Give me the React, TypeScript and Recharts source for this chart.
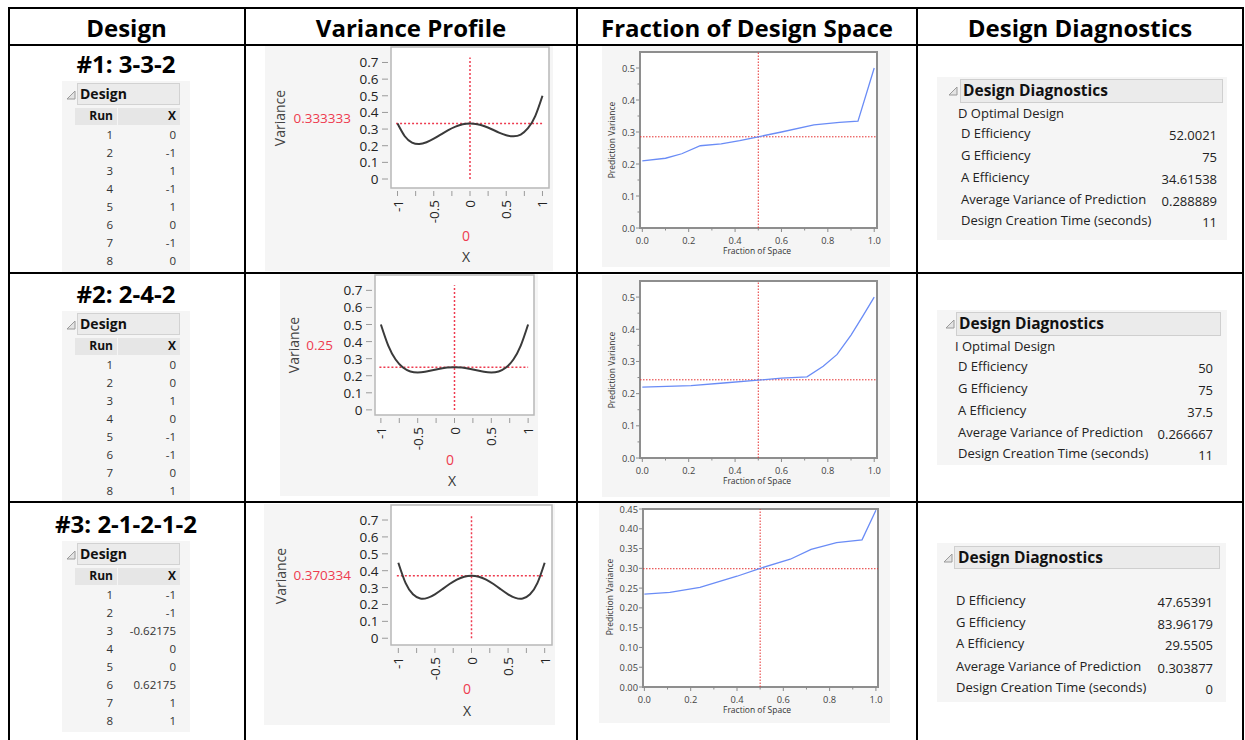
import React from 'react';
import { LineChart, Line, XAxis, YAxis, CartesianGrid, ReferenceLine, ReferenceArea } from 'recharts';

// header row + row titles
const headers = ['Design', 'Variance Profile', 'Fraction of Design Space', 'Design Diagnostics'];
const designTitles = ['#1: 3-3-2', '#2: 2-4-2', '#3: 2-1-2-1-2'];

// design tables (Run / X)
const runs = ['1', '2', '3', '4', '5', '6', '7', '8'];
const design1 = ['0', '-1', '1', '-1', '1', '0', '-1', '0'];
const design2 = ['0', '0', '1', '0', '-1', '-1', '0', '1'];
const design3 = ['-1', '-1', '-0.62175', '0', '0', '0.62175', '1', '1'];

// variance profile at X = -1 .. 1
const profileX = [-1, -0.9, -0.8, -0.7, -0.6, -0.5, -0.4, -0.3, -0.2, -0.1, 0, 0.1, 0.2, 0.3, 0.4, 0.5, 0.6, 0.7, 0.8, 0.9, 1];
const profile1 = [0.333, 0.257, 0.219, 0.21, 0.221, 0.242, 0.268, 0.294, 0.315, 0.329, 0.333, 0.329, 0.317, 0.299, 0.279, 0.263, 0.257, 0.267, 0.305, 0.378, 0.5];
const profile2 = [0.5, 0.376, 0.295, 0.248, 0.225, 0.219, 0.223, 0.232, 0.241, 0.248, 0.25, 0.248, 0.241, 0.232, 0.223, 0.219, 0.225, 0.248, 0.295, 0.376, 0.5];
const profile3 = [0.447, 0.326, 0.26, 0.235, 0.239, 0.26, 0.29, 0.321, 0.347, 0.364, 0.37, 0.364, 0.347, 0.321, 0.29, 0.26, 0.239, 0.235, 0.26, 0.326, 0.447];
const profileCurrent = [0.333333, 0.25, 0.370334];
const profileCurrentText = ['0.333333', '0.25', '0.370334'];
const profileYTicks = [0, 0.1, 0.2, 0.3, 0.4, 0.5, 0.6, 0.7];
const profileXTicks = [-1, -0.75, -0.5, -0.25, 0, 0.25, 0.5, 0.75, 1];

// fraction of design space
const fds1Frac = [0, 0.1, 0.17, 0.25, 0.34, 0.42, 0.5, 0.6, 0.74, 0.85, 0.93, 1];
const fds1Var = [0.21, 0.218, 0.232, 0.257, 0.263, 0.273, 0.285, 0.3, 0.322, 0.33, 0.334, 0.5];
const fds2Frac = [0, 0.21, 0.35, 0.5, 0.6, 0.71, 0.78, 0.84, 0.9, 0.95, 1];
const fds2Var = [0.22, 0.225, 0.233, 0.242, 0.248, 0.252, 0.285, 0.322, 0.382, 0.44, 0.5];
const fds3Frac = [0, 0.11, 0.24, 0.4, 0.5, 0.63, 0.72, 0.83, 0.94, 1];
const fds3Var = [0.235, 0.239, 0.252, 0.28, 0.3, 0.323, 0.348, 0.365, 0.372, 0.447];
const fdsMedian = [0.285, 0.243, 0.299];
const fdsXTicks = [0, 0.1, 0.2, 0.3, 0.4, 0.5, 0.6, 0.7, 0.8, 0.9, 1];
const fdsYTicksA = [0, 0.05, 0.1, 0.15, 0.2, 0.25, 0.3, 0.35, 0.4, 0.45, 0.5];
const fdsYTicksB = [0, 0.05, 0.1, 0.15, 0.2, 0.25, 0.3, 0.35, 0.4, 0.45];

// design diagnostics
const diagLabels = ['D Efficiency', 'G Efficiency', 'A Efficiency', 'Average Variance of Prediction', 'Design Creation Time (seconds)'];
const diag1 = ['52.0021', '75', '34.61538', '0.288889', '11'];
const diag2 = ['50', '75', '37.5', '0.266667', '11'];
const diag3 = ['47.65391', '83.96179', '29.5505', '0.303877', '0'];
const diagOptimal = ['D Optimal Design', 'I Optimal Design', ''];

const FONT = '"Open Sans", sans-serif';
const PANEL = '#f5f5f5';
const RED = '#ee3b4f';

type Anchor = 'start' | 'middle' | 'end';

// text whose cap-height middle sits on y
const Txt = ({ x, y, size, anchor = 'start', bold = false, color = '#222', rotate = false, children }: any) => {
  const base: React.CSSProperties = {
    position: 'absolute',
    fontSize: size,
    lineHeight: `${size}px`,
    whiteSpace: 'nowrap',
    color,
    fontWeight: bold ? 700 : 400,
  };
  if (rotate) {
    return <div style={{ ...base, left: x, top: y, transform: 'translate(-50%,-50%) rotate(-90deg)' }}>{children}</div>;
  }
  const tx = anchor === 'start' ? '0' : anchor === 'middle' ? '-50%' : '-100%';
  return <div style={{ ...base, left: x, top: y - 0.53 * size, transform: `translateX(${tx})` }}>{children}</div>;
};

const Rule = ({ x, y, w, h }: { x: number; y: number; w: number; h: number }) => (
  <div style={{ position: 'absolute', left: x, top: y, width: w, height: h, background: '#000' }} />
);

const Box = ({ l, t, w, h, bg, border }: any) => (
  <div style={{ position: 'absolute', left: l, top: t, width: w, height: h, background: bg, border, boxSizing: 'border-box' }} />
);

const Disclosure = ({ x, y }: { x: number; y: number }) => (
  <svg style={{ position: 'absolute', left: x - 5, top: y - 5 }} width={10} height={10}>
    <polygon points="1,9 9,1 9,9" fill="#e4e4e4" stroke="#9a9a9a" strokeWidth={1} />
  </svg>
);

const DesignTable = ({ boxTop, bottom, values }: { boxTop: number; bottom: number; values: string[] }) => (
  <>
    <Box l={62} t={boxTop - 2} w={128} h={bottom - boxTop + 2} bg={PANEL} />
    <Disclosure x={71} y={boxTop + 12} />
    <Box l={77} t={boxTop} w={103} h={22} bg="#ebebeb" border="1px solid #d2d2d2" />
    <Txt x={80} y={boxTop + 11} size={14} bold color="#111">Design</Txt>
    <Box l={75} t={boxTop + 25} w={42} h={17} bg="#e6e6e6" />
    <Box l={118} t={boxTop + 25} w={62} h={17} bg="#e6e6e6" />
    <Txt x={113} y={boxTop + 33.5} size={12} bold anchor="end" color="#111">Run</Txt>
    <Txt x={176} y={boxTop + 33.5} size={12} bold anchor="end" color="#111">X</Txt>
    {runs.map((r, i) => (
      <React.Fragment key={r}>
        <Txt x={113} y={boxTop + 52.5 + i * 18} size={11.5} anchor="end" color="#333">{r}</Txt>
        <Txt x={176} y={boxTop + 52.5 + i * 18} size={11.5} anchor="end" color="#333">{values[i]}</Txt>
      </React.Fragment>
    ))}
  </>
);

const profileYTick = (props: any) => {
  const { x, y, payload } = props;
  const v = payload.value as number;
  return (
    <g>
      <line x1={x - 9} x2={x - 3} y1={y} y2={y} stroke="#9a9a9a" strokeWidth={1} />
      <text x={x - 12.5} y={y} textAnchor="end" dominantBaseline="central" fontSize={13.5} fontFamily={FONT} fill="#222">
        {v === 0 ? '0' : v.toFixed(1)}
      </text>
    </g>
  );
};

const profileXTick = (props: any) => {
  const { x, y, payload } = props;
  const v = payload.value as number;
  const major = Math.abs(v * 2 - Math.round(v * 2)) < 1e-6;
  return (
    <g>
      <line x1={x} x2={x} y1={y + 3} y2={y + 8} stroke="#9a9a9a" strokeWidth={1} />
      {major && (
        <text transform={`translate(${x},${y + 12}) rotate(-90)`} textAnchor="end" dominantBaseline="central" fontSize={13.5} fontFamily={FONT} fill="#222">
          {String(v)}
        </text>
      )}
    </g>
  );
};

const fdsYTick = (decimals: number, every: number) => (props: any) => {
  const { x, y, payload } = props;
  const v = payload.value as number;
  const major = Math.round(v * 100) % every === 0;
  return (
    <g>
      <line x1={x - (major ? 4 : 2.5)} x2={x} y1={y} y2={y} stroke="#8a8a8a" strokeWidth={1} />
      {major && (
        <text x={x - 5} y={y} textAnchor="end" dominantBaseline="central" fontSize={9.3} fontFamily={FONT} fill="#444">
          {v.toFixed(decimals)}
        </text>
      )}
    </g>
  );
};

const fdsXTick = (props: any) => {
  const { x, y, payload } = props;
  const v = payload.value as number;
  const major = Math.round(v * 10) % 2 === 0;
  return (
    <g>
      <line x1={x} x2={x} y1={y} y2={y + (major ? 4 : 2.5)} stroke="#8a8a8a" strokeWidth={1} />
      {major && (
        <text x={x} y={y + 12} textAnchor="middle" dominantBaseline="central" fontSize={9.3} fontFamily={FONT} fill="#444">
          {v.toFixed(1)}
        </text>
      )}
    </g>
  );
};

type Rect = [number, number, number, number];

const ProfileChart = ({ panel, frame, xDomain, yDomain, values, current, currentText, varLabel, curLabel, zero, xLabel }: any) => {
  const data = profileX.map((x, i) => ({ x, v: values[i] }));
  const [pl, pt, pr, pb] = panel as Rect;
  const [fl, ft, fr, fb] = frame as Rect;
  const W = pr - pl;
  const H = pb - pt;
  return (
    <>
      <div style={{ position: 'absolute', left: pl, top: pt, width: W, height: H, background: PANEL }}>
        <LineChart width={W} height={H} data={data} margin={{ top: ft - pt, right: pr - fr, bottom: 0, left: 0 }}>
          <CartesianGrid horizontal={false} vertical={false} fill="#ffffff" />
          <XAxis dataKey="x" type="number" domain={xDomain} ticks={profileXTicks} interval={0} allowDataOverflow
            height={pb - fb} axisLine={false} tickLine={false} tickSize={0} tickMargin={0} tick={profileXTick} />
          <YAxis type="number" domain={yDomain} ticks={profileYTicks} interval={0} allowDataOverflow
            width={fl - pl} axisLine={false} tickLine={false} tickSize={0} tickMargin={0} tick={profileYTick} />
          <ReferenceLine segment={[{ x: -1.02, y: current }, { x: 1.0, y: current }]} stroke={RED} strokeWidth={1.5} strokeDasharray="2 2" ifOverflow="visible" />
          <ReferenceLine segment={[{ x: 0, y: 0 }, { x: 0, y: 0.73 }]} stroke={RED} strokeWidth={1.5} strokeDasharray="2 2" ifOverflow="visible" />
          <Line dataKey="v" type="natural" stroke="#3a3a3a" strokeWidth={2} dot={false} isAnimationActive={false} />
          <ReferenceArea x1={xDomain[0]} x2={xDomain[1]} y1={yDomain[0]} y2={yDomain[1]} fill="none" stroke="#b8b8b8" strokeWidth={1.5} ifOverflow="visible" />
        </LineChart>
      </div>
      <Txt x={varLabel[0]} y={varLabel[1]} size={14} rotate color="#444">Variance</Txt>
      <Txt x={curLabel[0]} y={curLabel[1]} size={13.5} anchor="end" color={RED}>{currentText}</Txt>
      <Txt x={zero[0]} y={zero[1]} size={14} anchor="middle" color={RED}>0</Txt>
      <Txt x={xLabel[0]} y={xLabel[1]} size={14} anchor="middle" color="#333">X</Txt>
    </>
  );
};

const FdsChart = ({ panel, frame, xDomain, yDomain, frac, vars, median, yTicks, yTick, yLabel, xLabel }: any) => {
  const data = frac.map((x: number, i: number) => ({ x, v: vars[i] }));
  const [pl, pt, pr, pb] = panel as Rect;
  const [fl, ft, fr, fb] = frame as Rect;
  const W = pr - pl;
  const H = pb - pt;
  return (
    <>
      <div style={{ position: 'absolute', left: pl, top: pt, width: W, height: H, background: PANEL }}>
        <LineChart width={W} height={H} data={data} margin={{ top: ft - pt, right: pr - fr, bottom: 0, left: 0 }}>
          <CartesianGrid horizontal={false} vertical={false} fill="#ffffff" />
          <XAxis dataKey="x" type="number" domain={xDomain} ticks={fdsXTicks} interval={0} allowDataOverflow
            height={pb - fb} axisLine={false} tickLine={false} tickSize={0} tickMargin={0} tick={fdsXTick} />
          <YAxis type="number" domain={yDomain} ticks={yTicks} interval={0} allowDataOverflow
            width={fl - pl} axisLine={false} tickLine={false} tickSize={0} tickMargin={0} tick={yTick} />
          <ReferenceLine x={0.5} stroke="#e53030" strokeWidth={1} strokeDasharray="1.5 1.5" />
          <ReferenceLine y={median} stroke="#e53030" strokeWidth={1} strokeDasharray="1.5 1.5" />
          <Line dataKey="v" type="linear" stroke="#6a8cf6" strokeWidth={1.3} dot={false} isAnimationActive={false} />
          <ReferenceArea x1={xDomain[0]} x2={xDomain[1]} y1={yDomain[0]} y2={yDomain[1]} fill="none" stroke="#8e8e8e" strokeWidth={2} ifOverflow="visible" />
        </LineChart>
      </div>
      <Txt x={yLabel[0]} y={yLabel[1]} size={8.5} rotate color="#333">Prediction Variance</Txt>
      <Txt x={xLabel[0]} y={xLabel[1]} size={8.5} anchor="middle" color="#333">Fraction of Space</Txt>
    </>
  );
};

const DiagPanel = ({ panel, box, tri, title, optimal, rowLeft, rowY, valueRight, values }: any) => {
  const [pl, pt, pr, pb] = panel as Rect;
  const [bl, bt, br, bb] = box as Rect;
  return (
    <>
      <Box l={pl} t={pt} w={pr - pl} h={pb - pt} bg={PANEL} />
      <Disclosure x={tri[0]} y={tri[1]} />
      <Box l={bl} t={bt} w={br - bl} h={bb - bt} bg="#ebebeb" border="1px solid #cfcfcf" />
      <Txt x={title[0]} y={title[1]} size={15.5} bold color="#111">Design Diagnostics</Txt>
      {optimal && <Txt x={optimal[0]} y={optimal[1]} size={13} color="#222">{optimal[2]}</Txt>}
      {diagLabels.map((lab, i) => (
        <React.Fragment key={lab}>
          <Txt x={rowLeft} y={rowY[i]} size={13} color="#222">{lab}</Txt>
          <Txt x={valueRight} y={rowY[i] + 1.5} size={13} anchor="end" color="#222">{values[i]}</Txt>
        </React.Fragment>
      ))}
    </>
  );
};

const colCenters = [126.5, 411, 747, 1080];

export default function App() {
  return (
    <div style={{ position: 'absolute', left: 0, top: 0, width: 1245, height: 740, overflow: 'hidden', background: '#fff', fontFamily: FONT }}>
      {headers.map((h, i) => (
        <Txt key={h} x={colCenters[i]} y={28.5} size={24} bold anchor="middle" color="#000">{h}</Txt>
      ))}

      {/* column 1 */}
      <Txt x={126} y={65} size={24} bold anchor="middle" color="#000">{designTitles[0]}</Txt>
      <DesignTable boxTop={83} bottom={272} values={design1} />
      <Txt x={126} y={295} size={24} bold anchor="middle" color="#000">{designTitles[1]}</Txt>
      <DesignTable boxTop={313} bottom={501} values={design2} />
      <Txt x={126} y={525} size={24} bold anchor="middle" color="#000">{designTitles[2]}</Txt>
      <DesignTable boxTop={543} bottom={732} values={design3} />

      {/* column 2 */}
      <ProfileChart panel={[265, 46, 553, 271]} frame={[391, 47, 549, 188]} xDomain={[-1.09, 1.09]} yDomain={[-0.054, 0.793]}
        values={profile1} current={profileCurrent[0]} currentText={profileCurrentText[0]}
        varLabel={[280, 118]} curLabel={[351, 119]} zero={[466, 236]} xLabel={[466, 257]} />
      <ProfileChart panel={[280, 274, 538, 496]} frame={[375, 275, 534, 415]} xDomain={[-1.08, 1.08]} yDomain={[-0.03, 0.79]}
        values={profile2} current={profileCurrent[1]} currentText={profileCurrentText[1]}
        varLabel={[294, 345]} curLabel={[333, 346]} zero={[450, 460]} xLabel={[452, 481]} />
      <ProfileChart panel={[264, 504, 555, 725]} frame={[391, 505, 552, 645]} xDomain={[-1.1, 1.1]} yDomain={[-0.04, 0.789]}
        values={profile3} current={profileCurrent[2]} currentText={profileCurrentText[2]}
        varLabel={[281, 576]} curLabel={[351, 576]} zero={[467, 689]} xLabel={[467, 711]} />

      {/* column 3 */}
      <FdsChart panel={[602, 46, 890, 267]} frame={[640, 52, 877, 228]} xDomain={[-0.01, 1.012]} yDomain={[0, 0.55]}
        frac={fds1Frac} vars={fds1Var} median={fdsMedian[0]} yTicks={fdsYTicksA} yTick={fdsYTick(1, 10)}
        yLabel={[612, 140]} xLabel={[757, 252]} />
      <FdsChart panel={[602, 275, 890, 497]} frame={[640, 281, 877, 458]} xDomain={[-0.01, 1.012]} yDomain={[0, 0.55]}
        frac={fds2Frac} vars={fds2Var} median={fdsMedian[1]} yTicks={fdsYTicksA} yTick={fdsYTick(1, 10)}
        yLabel={[612, 370]} xLabel={[757, 482]} />
      <FdsChart panel={[599, 503, 890, 723]} frame={[643, 509, 878, 687]} xDomain={[-0.006, 1.009]} yDomain={[0, 0.45]}
        frac={fds3Frac} vars={fds3Var} median={fdsMedian[2]} yTicks={fdsYTicksB} yTick={fdsYTick(2, 5)}
        yLabel={[610, 597]} xLabel={[757, 711]} />

      {/* column 4 */}
      <DiagPanel panel={[937, 77, 1227, 240]} box={[960, 79, 1223, 103]} tri={[953, 91]} title={[963, 91]}
        optimal={[958, 114, diagOptimal[0]]} rowLeft={961} rowY={[134, 156, 178, 200, 221]} valueRight={1217} values={diag1} />
      <DiagPanel panel={[937, 310, 1227, 465]} box={[956, 312, 1221, 336]} tri={[950, 324]} title={[959, 324]}
        optimal={[955, 347, diagOptimal[1]]} rowLeft={958} rowY={[367, 389, 411, 433, 454]} valueRight={1213} values={diag2} />
      <DiagPanel panel={[937, 543, 1226, 702]} box={[954, 546, 1220, 569]} tri={[948, 558]} title={[958, 558]}
        optimal={null} rowLeft={956} rowY={[601, 623, 644, 667, 688]} valueRight={1213} values={diag3} />

      {/* table rules */}
      <Rule x={8} y={7} w={1236} h={2} />
      <Rule x={8} y={44} w={1236} h={2} />
      <Rule x={8} y={272} w={1236} h={2} />
      <Rule x={8} y={501} w={1236} h={2} />
      {[8, 244, 576, 916, 1242].map((x) => (
        <Rule key={x} x={x} y={7} w={2} h={740} />
      ))}
    </div>
  );
}
